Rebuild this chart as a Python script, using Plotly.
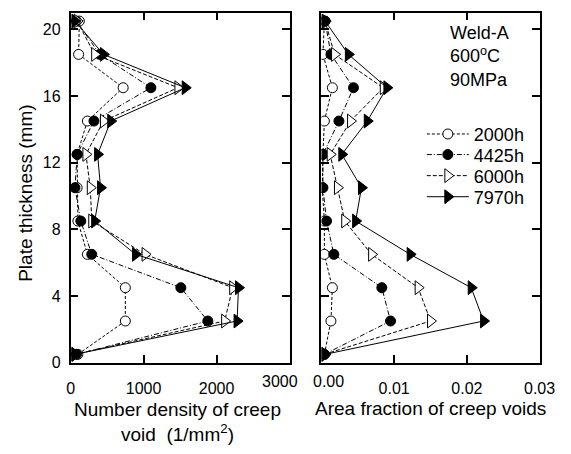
import plotly.graph_objects as go

# Data
thickness = [0.5, 2.5, 4.5, 6.5, 8.5, 10.5, 12.5, 14.5, 16.5, 18.5, 20.5]

series_names = ["2000h", "4425h", "6000h", "7970h"]

nd_2000 = [100, 750, 750, 230, 100, 90, 90, 230, 720, 110, 120]
nd_4425 = [80, 1880, 1510, 290, 140, 60, 90, 320, 1100, 400, 80]
nd_6000 = [60, 2110, 2220, 1020, 290, 270, 210, 450, 1470, 330, 90]
nd_7970 = [60, 2280, 2300, 890, 330, 410, 370, 550, 1570, 450, 60]

af_2000 = [0.0004, 0.0013, 0.0015, 0.0004, 0.0004, 0.0001, 0.0002, 0.0004, 0.0015, 0.0002, 0.0004]
af_4425 = [0.0004, 0.0095, 0.0083, 0.0017, 0.0007, 0.0002, 0.0002, 0.0024, 0.0044, 0.0013, 0.0005]
af_6000 = [0.0004, 0.0150, 0.0133, 0.0069, 0.0032, 0.0022, 0.0012, 0.0040, 0.0085, 0.0018, 0.0005]
af_7970 = [0.0005, 0.0223, 0.0206, 0.0122, 0.0047, 0.0055, 0.0028, 0.0063, 0.0090, 0.0037, 0.0005]

x_ticks_left = [0, 1000, 2000, 3000]
x_ticks_right = [0.00, 0.01, 0.02, 0.03]
y_ticks = [0, 4, 8, 12, 16, 20]

nd_data = [nd_2000, nd_4425, nd_6000, nd_7970]
af_data = [af_2000, af_4425, af_6000, af_7970]

styles = [
    dict(dash="3px,2px", symbol="circle", size=10, fill="white"),
    dict(dash="5px,2px,1px,2px", symbol="circle", size=10, fill="black"),
    dict(dash="4px,2px", symbol="triangle-right", size=12, fill="white"),
    dict(dash="solid", symbol="triangle-right", size=12, fill="black"),
]

FONT = "Liberation Sans, Arial, sans-serif"
W, H = 571, 454

legend_rows_px = [137, 158, 179.5, 201]
legend_ids = ["legend", "legend2", "legend3", "legend4"]

fig = go.Figure()
for name, nd, af, st, lid in zip(series_names, nd_data, af_data, styles, legend_ids):
    marker = dict(symbol=st["symbol"], size=st["size"], color=st["fill"],
                  line=dict(color="black", width=1))
    line = dict(color="black", width=1, dash=st["dash"])
    fig.add_trace(go.Scatter(
        x=nd, y=thickness, mode="lines+markers", name=name,
        line=line, marker=marker, xaxis="x", yaxis="y",
        showlegend=True, legend=lid,
    ))
    fig.add_trace(go.Scatter(
        x=af, y=thickness, mode="lines+markers", name=name,
        line=line, marker=marker, xaxis="x2", yaxis="y2", showlegend=False,
    ))

axis_common = dict(
    showline=True, linecolor="black", linewidth=1.5, mirror="ticks",
    ticks="inside", ticklen=8, tickwidth=1.5, tickcolor="black",
    showgrid=False, zeroline=False,
    tickfont=dict(family=FONT, size=16, color="black"),
)

ydom = [1 - 370 / H, 1 - 13 / H]
layout = dict(
    width=W, height=H,
    margin=dict(l=0, r=0, t=0, b=0),
    paper_bgcolor="white", plot_bgcolor="white",
    font=dict(family=FONT, color="black"),
    # boundary labels "3000" and "0.00" are drawn as nudged annotations below
    xaxis=dict(domain=[69 / W, 296 / W], range=[0, 3000], tickvals=x_ticks_left[:-1],
               anchor="y", ticklabelstandoff=10, **axis_common),
    yaxis=dict(domain=ydom, range=[0, 21], tickvals=y_ticks, anchor="x",
               ticklabelstandoff=5, **axis_common),
    xaxis2=dict(domain=[329 / W, 555 / W], range=[0, 0.03], tickvals=x_ticks_right[1:],
                tickformat=".2f", anchor="y2", ticklabelstandoff=10, **axis_common),
    yaxis2=dict(domain=ydom, range=[0, 21], tickvals=y_ticks, anchor="x2",
                showticklabels=False, **axis_common),
    showlegend=True,
)
for lid, ypx in zip(legend_ids, legend_rows_px):
    layout[lid] = dict(x=433 / W, y=1 - ypx / H, xanchor="left", yanchor="middle",
                       bgcolor="rgba(0,0,0,0)", borderwidth=0, itemwidth=42,
                       font=dict(family=FONT, size=18, color="black"))
fig.update_layout(**layout)

ann_font = dict(family=FONT, size=19, color="black")
tick_font = dict(family=FONT, size=16, color="black")
fig.add_annotation(xref="paper", yref="paper", x=22 / W, y=1 - 197.5 / H,
                   text="Plate thickness (mm)", textangle=-90, showarrow=False,
                   font=ann_font, xanchor="center", yanchor="middle")
fig.add_annotation(xref="paper", yref="paper", x=180 / W, y=1 - 418 / H,
                   text="Number density of creep", showarrow=False,
                   font=ann_font, xanchor="center", yanchor="middle")
fig.add_annotation(xref="paper", yref="paper", x=180 / W, y=1 - 442 / H,
                   text="void  (1/mm<sup>2</sup>)", showarrow=False,
                   font=ann_font, xanchor="center", yanchor="middle")
fig.add_annotation(xref="paper", yref="paper", x=442 / W, y=1 - 417 / H,
                   text="Area fraction of creep voids", showarrow=False,
                   font=ann_font, xanchor="center", yanchor="middle")
fig.add_annotation(xref="paper", yref="paper", x=460 / W, y=1 - 58 / H,
                   text="Weld-A<br>600<sup>o</sup>C<br>90MPa", showarrow=False,
                   font=dict(family=FONT, size=18, color="black"),
                   xanchor="left", yanchor="middle", align="left")
# boundary tick labels, nudged apart as in the reference
fig.add_annotation(xref="paper", yref="paper", x=286 / W, y=1 - 389 / H,
                   text=str(x_ticks_left[-1]), showarrow=False, font=tick_font,
                   xanchor="center", yanchor="middle")
fig.add_annotation(xref="paper", yref="paper", x=336 / W, y=1 - 389 / H,
                   text=f"{x_ticks_right[0]:.2f}", showarrow=False, font=tick_font,
                   xanchor="center", yanchor="middle")

fig.write_html("out.html")
